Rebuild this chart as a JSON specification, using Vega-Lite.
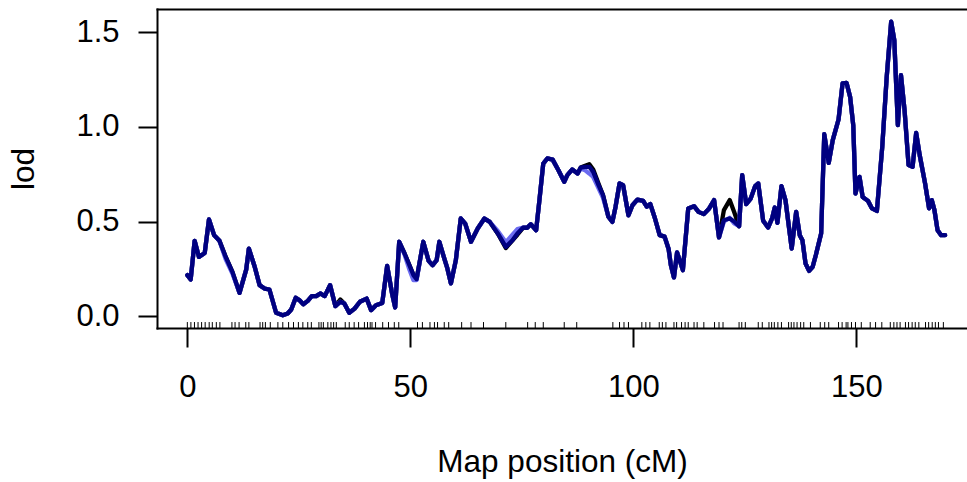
{
  "$schema": "https://vega.github.io/schema/vega-lite/v6.json",
  "width": 810,
  "height": 319,
  "autosize": {"type": "none"},
  "padding": {"left": 157, "top": 9, "right": 0, "bottom": 154},
  "background": "white",
  "config": {
    "view": {"stroke": null},
    "font": "Liberation Sans",
    "axis": {
      "domainColor": "black", "domainWidth": 2, "domainCap": "square",
      "tickColor": "black", "tickWidth": 2, "tickSize": 19,
      "labelFont": "Liberation Sans", "labelFontSize": 31, "labelColor": "black",
      "titleFont": "Liberation Sans", "titleFontSize": 31.5, "titleFontWeight": "normal", "titleColor": "black",
      "grid": false, "labelFlush": false, "labelOverlap": false
    },
    "axisX": {"labelPadding": 25, "titleBaseline": "alphabetic", "titleY": 143, "format": "d"},
    "axisY": {"format": ".1f", "labelPadding": 19, "titleAngle": 270, "titleX": -124, "titleY": 159.5, "titleBaseline": "alphabetic", "titleAlign": "center"}
  },
  "datasets": {
    "lod": [
      {"pos": 0, "black": 0.217, "light": 0.217, "dark": 0.217},
      {"pos": 0.75, "black": 0.194, "light": 0.194, "dark": 0.194},
      {"pos": 1.64, "black": 0.398, "light": 0.398, "dark": 0.398},
      {"pos": 2.6, "black": 0.313, "light": 0.313, "dark": 0.313},
      {"pos": 3.9, "black": 0.334, "light": 0.334, "dark": 0.334},
      {"pos": 4.85, "black": 0.511, "light": 0.511, "dark": 0.511},
      {"pos": 6.0, "black": 0.428, "light": 0.428, "dark": 0.428},
      {"pos": 7.2, "black": 0.398, "light": 0.398, "dark": 0.398},
      {"pos": 8.6, "black": 0.313, "light": 0.3, "dark": 0.313},
      {"pos": 10.1, "black": 0.234, "light": 0.225, "dark": 0.234},
      {"pos": 11.7, "black": 0.123, "light": 0.123, "dark": 0.123},
      {"pos": 13.2, "black": 0.246, "light": 0.246, "dark": 0.246},
      {"pos": 13.8, "black": 0.357, "light": 0.357, "dark": 0.357},
      {"pos": 15.1, "black": 0.261, "light": 0.261, "dark": 0.261},
      {"pos": 16.2, "black": 0.164, "light": 0.164, "dark": 0.164},
      {"pos": 17.3, "black": 0.146, "light": 0.146, "dark": 0.146},
      {"pos": 18.4, "black": 0.141, "light": 0.141, "dark": 0.141},
      {"pos": 19.9, "black": 0.018, "light": 0.018, "dark": 0.018},
      {"pos": 21.4, "black": 0.005, "light": 0.005, "dark": 0.005},
      {"pos": 22.5, "black": 0.014, "light": 0.014, "dark": 0.014},
      {"pos": 23.3, "black": 0.035, "light": 0.035, "dark": 0.035},
      {"pos": 24.3, "black": 0.097, "light": 0.097, "dark": 0.097},
      {"pos": 25.1, "black": 0.085, "light": 0.085, "dark": 0.085},
      {"pos": 26.0, "black": 0.063, "light": 0.063, "dark": 0.063},
      {"pos": 27.0, "black": 0.081, "light": 0.081, "dark": 0.081},
      {"pos": 27.9, "black": 0.106, "light": 0.106, "dark": 0.106},
      {"pos": 28.9, "black": 0.106, "light": 0.106, "dark": 0.106},
      {"pos": 29.8, "black": 0.12, "light": 0.12, "dark": 0.12},
      {"pos": 30.8, "black": 0.106, "light": 0.106, "dark": 0.106},
      {"pos": 32.0, "black": 0.164, "light": 0.164, "dark": 0.164},
      {"pos": 33.2, "black": 0.053, "light": 0.053, "dark": 0.053},
      {"pos": 34.3, "black": 0.088, "light": 0.076, "dark": 0.076},
      {"pos": 35.2, "black": 0.067, "light": 0.067, "dark": 0.067},
      {"pos": 36.3, "black": 0.018, "light": 0.018, "dark": 0.018},
      {"pos": 37.5, "black": 0.04, "light": 0.04, "dark": 0.04},
      {"pos": 38.7, "black": 0.076, "light": 0.076, "dark": 0.076},
      {"pos": 40.2, "black": 0.093, "light": 0.093, "dark": 0.093},
      {"pos": 41.2, "black": 0.032, "light": 0.032, "dark": 0.032},
      {"pos": 42.3, "black": 0.058, "light": 0.058, "dark": 0.058},
      {"pos": 43.7, "black": 0.07, "light": 0.07, "dark": 0.07},
      {"pos": 44.8, "black": 0.266, "light": 0.266, "dark": 0.266},
      {"pos": 45.9, "black": 0.12, "light": 0.12, "dark": 0.12},
      {"pos": 46.6, "black": 0.046, "light": 0.046, "dark": 0.046},
      {"pos": 47.5, "black": 0.393, "light": 0.393, "dark": 0.393},
      {"pos": 48.7, "black": 0.331, "light": 0.325, "dark": 0.331},
      {"pos": 49.8, "black": 0.269, "light": 0.245, "dark": 0.269},
      {"pos": 50.7, "black": 0.217, "light": 0.19, "dark": 0.217},
      {"pos": 51.4, "black": 0.196, "light": 0.19, "dark": 0.196},
      {"pos": 52.9, "black": 0.393, "light": 0.393, "dark": 0.393},
      {"pos": 54.1, "black": 0.292, "light": 0.292, "dark": 0.292},
      {"pos": 55.0, "black": 0.269, "light": 0.269, "dark": 0.269},
      {"pos": 55.9, "black": 0.296, "light": 0.296, "dark": 0.296},
      {"pos": 56.5, "black": 0.393, "light": 0.393, "dark": 0.393},
      {"pos": 57.6, "black": 0.305, "light": 0.305, "dark": 0.305},
      {"pos": 58.3, "black": 0.252, "light": 0.252, "dark": 0.252},
      {"pos": 59.1, "black": 0.173, "light": 0.173, "dark": 0.173},
      {"pos": 60.2, "black": 0.296, "light": 0.296, "dark": 0.296},
      {"pos": 61.3, "black": 0.516, "light": 0.516, "dark": 0.516},
      {"pos": 62.3, "black": 0.489, "light": 0.489, "dark": 0.489},
      {"pos": 63.6, "black": 0.393, "light": 0.393, "dark": 0.393},
      {"pos": 65.1, "black": 0.463, "light": 0.463, "dark": 0.463},
      {"pos": 66.6, "black": 0.516, "light": 0.516, "dark": 0.516},
      {"pos": 67.8, "black": 0.498, "light": 0.498, "dark": 0.498},
      {"pos": 69.6, "black": 0.437, "light": 0.45, "dark": 0.437},
      {"pos": 71.4, "black": 0.36, "light": 0.39, "dark": 0.366},
      {"pos": 72.9, "black": 0.401, "light": 0.43, "dark": 0.401},
      {"pos": 74.0, "black": 0.43, "light": 0.46, "dark": 0.437},
      {"pos": 75.3, "black": 0.468, "light": 0.468, "dark": 0.468},
      {"pos": 76.2, "black": 0.467, "light": 0.467, "dark": 0.467},
      {"pos": 77.0, "black": 0.486, "light": 0.486, "dark": 0.486},
      {"pos": 78.2, "black": 0.454, "light": 0.454, "dark": 0.454},
      {"pos": 78.9, "black": 0.604, "light": 0.604, "dark": 0.604},
      {"pos": 79.8, "black": 0.806, "light": 0.806, "dark": 0.806},
      {"pos": 80.7, "black": 0.833, "light": 0.833, "dark": 0.833},
      {"pos": 81.9, "black": 0.827, "light": 0.827, "dark": 0.827},
      {"pos": 83.2, "black": 0.771, "light": 0.771, "dark": 0.771},
      {"pos": 84.5, "black": 0.71, "light": 0.71, "dark": 0.71},
      {"pos": 85.2, "black": 0.745, "light": 0.745, "dark": 0.745},
      {"pos": 86.3, "black": 0.775, "light": 0.775, "dark": 0.775},
      {"pos": 87.5, "black": 0.754, "light": 0.754, "dark": 0.754},
      {"pos": 88.2, "black": 0.785, "light": 0.78, "dark": 0.785},
      {"pos": 89.2, "black": 0.795, "light": 0.77, "dark": 0.789},
      {"pos": 90.1, "black": 0.803, "light": 0.754, "dark": 0.789},
      {"pos": 91.0, "black": 0.775, "light": 0.735, "dark": 0.762},
      {"pos": 92.2, "black": 0.7, "light": 0.675, "dark": 0.692},
      {"pos": 93.2, "black": 0.639, "light": 0.625, "dark": 0.639},
      {"pos": 94.4, "black": 0.525, "light": 0.525, "dark": 0.525},
      {"pos": 95.3, "black": 0.498, "light": 0.498, "dark": 0.498},
      {"pos": 96.0, "black": 0.577, "light": 0.577, "dark": 0.577},
      {"pos": 96.9, "black": 0.701, "light": 0.701, "dark": 0.701},
      {"pos": 97.7, "black": 0.692, "light": 0.692, "dark": 0.692},
      {"pos": 98.9, "black": 0.533, "light": 0.533, "dark": 0.533},
      {"pos": 99.8, "black": 0.586, "light": 0.586, "dark": 0.586},
      {"pos": 100.9, "black": 0.616, "light": 0.616, "dark": 0.616},
      {"pos": 102.2, "black": 0.609, "light": 0.609, "dark": 0.609},
      {"pos": 103.0, "black": 0.578, "light": 0.578, "dark": 0.578},
      {"pos": 103.8, "black": 0.592, "light": 0.592, "dark": 0.592},
      {"pos": 104.8, "black": 0.52, "light": 0.52, "dark": 0.52},
      {"pos": 105.9, "black": 0.428, "light": 0.428, "dark": 0.428},
      {"pos": 107.0, "black": 0.42, "light": 0.42, "dark": 0.42},
      {"pos": 107.9, "black": 0.355, "light": 0.355, "dark": 0.355},
      {"pos": 108.4, "black": 0.27, "light": 0.27, "dark": 0.27},
      {"pos": 109.1, "black": 0.205, "light": 0.205, "dark": 0.205},
      {"pos": 109.8, "black": 0.337, "light": 0.337, "dark": 0.337},
      {"pos": 111.1, "black": 0.243, "light": 0.243, "dark": 0.243},
      {"pos": 112.3, "black": 0.569, "light": 0.569, "dark": 0.569},
      {"pos": 113.6, "black": 0.581, "light": 0.581, "dark": 0.581},
      {"pos": 114.6, "black": 0.551, "light": 0.551, "dark": 0.551},
      {"pos": 115.8, "black": 0.539, "light": 0.539, "dark": 0.539},
      {"pos": 117.0, "black": 0.569, "light": 0.569, "dark": 0.569},
      {"pos": 118.1, "black": 0.613, "light": 0.613, "dark": 0.613},
      {"pos": 119.2, "black": 0.416, "light": 0.416, "dark": 0.416},
      {"pos": 120.3, "black": 0.56, "light": 0.5, "dark": 0.507},
      {"pos": 121.6, "black": 0.613, "light": 0.52, "dark": 0.516},
      {"pos": 122.6, "black": 0.55, "light": 0.49, "dark": 0.5},
      {"pos": 123.7, "black": 0.475, "light": 0.475, "dark": 0.475},
      {"pos": 124.4, "black": 0.745, "light": 0.745, "dark": 0.745},
      {"pos": 125.3, "black": 0.592, "light": 0.592, "dark": 0.592},
      {"pos": 126.3, "black": 0.621, "light": 0.621, "dark": 0.621},
      {"pos": 127.3, "black": 0.687, "light": 0.687, "dark": 0.687},
      {"pos": 128.0, "black": 0.701, "light": 0.701, "dark": 0.701},
      {"pos": 129.1, "black": 0.504, "light": 0.504, "dark": 0.504},
      {"pos": 130.2, "black": 0.468, "light": 0.468, "dark": 0.468},
      {"pos": 131.1, "black": 0.516, "light": 0.516, "dark": 0.516},
      {"pos": 131.7, "black": 0.574, "light": 0.574, "dark": 0.574},
      {"pos": 132.3, "black": 0.493, "light": 0.493, "dark": 0.493},
      {"pos": 133.2, "black": 0.687, "light": 0.687, "dark": 0.687},
      {"pos": 134.1, "black": 0.613, "light": 0.613, "dark": 0.613},
      {"pos": 135.5, "black": 0.357, "light": 0.357, "dark": 0.357},
      {"pos": 136.5, "black": 0.551, "light": 0.551, "dark": 0.551},
      {"pos": 137.3, "black": 0.428, "light": 0.428, "dark": 0.428},
      {"pos": 137.9, "black": 0.401, "light": 0.401, "dark": 0.401},
      {"pos": 138.6, "black": 0.278, "light": 0.278, "dark": 0.278},
      {"pos": 139.4, "black": 0.239, "light": 0.239, "dark": 0.239},
      {"pos": 140.2, "black": 0.261, "light": 0.261, "dark": 0.261},
      {"pos": 140.9, "black": 0.322, "light": 0.322, "dark": 0.322},
      {"pos": 142.1, "black": 0.437, "light": 0.437, "dark": 0.437},
      {"pos": 142.8, "black": 0.961, "light": 0.961, "dark": 0.961},
      {"pos": 143.8, "black": 0.81, "light": 0.81, "dark": 0.81},
      {"pos": 144.7, "black": 0.93, "light": 0.93, "dark": 0.93},
      {"pos": 146.0, "black": 1.039, "light": 1.039, "dark": 1.039},
      {"pos": 146.9, "black": 1.229, "light": 1.229, "dark": 1.229},
      {"pos": 147.8, "black": 1.232, "light": 1.232, "dark": 1.232},
      {"pos": 148.6, "black": 1.158, "light": 1.158, "dark": 1.158},
      {"pos": 149.3, "black": 1.009, "light": 1.009, "dark": 1.009},
      {"pos": 149.8, "black": 0.648, "light": 0.648, "dark": 0.648},
      {"pos": 150.7, "black": 0.736, "light": 0.736, "dark": 0.736},
      {"pos": 151.4, "black": 0.63, "light": 0.63, "dark": 0.63},
      {"pos": 152.6, "black": 0.609, "light": 0.609, "dark": 0.609},
      {"pos": 153.5, "black": 0.569, "light": 0.569, "dark": 0.569},
      {"pos": 154.6, "black": 0.556, "light": 0.556, "dark": 0.556},
      {"pos": 155.8, "black": 0.894, "light": 0.894, "dark": 0.894},
      {"pos": 156.8, "black": 1.264, "light": 1.264, "dark": 1.264},
      {"pos": 157.8, "black": 1.555, "light": 1.555, "dark": 1.555},
      {"pos": 158.5, "black": 1.458, "light": 1.458, "dark": 1.458},
      {"pos": 159.3, "black": 1.009, "light": 1.009, "dark": 1.009},
      {"pos": 160.0, "black": 1.273, "light": 1.273, "dark": 1.273},
      {"pos": 160.8, "black": 1.088, "light": 1.088, "dark": 1.088},
      {"pos": 161.7, "black": 0.798, "light": 0.798, "dark": 0.798},
      {"pos": 162.6, "black": 0.789, "light": 0.789, "dark": 0.789},
      {"pos": 163.4, "black": 0.968, "light": 0.968, "dark": 0.968},
      {"pos": 164.2, "black": 0.85, "light": 0.85, "dark": 0.85},
      {"pos": 165.4, "black": 0.701, "light": 0.701, "dark": 0.701},
      {"pos": 166.3, "black": 0.569, "light": 0.569, "dark": 0.569},
      {"pos": 166.9, "black": 0.613, "light": 0.613, "dark": 0.613},
      {"pos": 167.5, "black": 0.56, "light": 0.56, "dark": 0.56},
      {"pos": 168.2, "black": 0.454, "light": 0.454, "dark": 0.454},
      {"pos": 169.0, "black": 0.428, "light": 0.428, "dark": 0.428},
      {"pos": 169.9, "black": 0.428, "light": 0.428, "dark": 0.428}
    ],
    "markers": [
      {"cM": 0}, {"cM": 0.8}, {"cM": 1.6}, {"cM": 2.4}, {"cM": 3.2}, {"cM": 4.0}, {"cM": 4.9}, {"cM": 5.6}, {"cM": 6.5}, {"cM": 7.3},
      {"cM": 10.0}, {"cM": 10.7}, {"cM": 11.6}, {"cM": 13.1}, {"cM": 13.8}, {"cM": 16.3}, {"cM": 16.9}, {"cM": 17.5}, {"cM": 18.6}, {"cM": 20.3},
      {"cM": 21.4}, {"cM": 22.7}, {"cM": 23.8}, {"cM": 24.9}, {"cM": 25.9}, {"cM": 27.0}, {"cM": 27.8}, {"cM": 29.5}, {"cM": 30.0}, {"cM": 30.5},
      {"cM": 31.5}, {"cM": 32.2}, {"cM": 32.8}, {"cM": 33.4}, {"cM": 35.4}, {"cM": 36.3}, {"cM": 37.4}, {"cM": 38.4}, {"cM": 39.7}, {"cM": 40.4},
      {"cM": 41.0}, {"cM": 41.4}, {"cM": 42.2}, {"cM": 43.8}, {"cM": 45.1}, {"cM": 46.4}, {"cM": 47.4}, {"cM": 51.6}, {"cM": 52.7}, {"cM": 54.4},
      {"cM": 55.4}, {"cM": 56.1}, {"cM": 57.6}, {"cM": 58.6}, {"cM": 61.5}, {"cM": 63.6}, {"cM": 66.4}, {"cM": 71.4}, {"cM": 76.3}, {"cM": 78.0},
      {"cM": 79.8}, {"cM": 84.5}, {"cM": 87.3}, {"cM": 95.4}, {"cM": 96.9}, {"cM": 97.9}, {"cM": 98.9}, {"cM": 101.9}, {"cM": 102.8}, {"cM": 103.7},
      {"cM": 105.8}, {"cM": 106.5}, {"cM": 107.3}, {"cM": 109.1}, {"cM": 109.7}, {"cM": 110.8}, {"cM": 111.6}, {"cM": 112.3}, {"cM": 113.6}, {"cM": 114.3},
      {"cM": 115.8}, {"cM": 118.2}, {"cM": 119.2}, {"cM": 120.1}, {"cM": 123.7}, {"cM": 124.3}, {"cM": 125.1}, {"cM": 128.0}, {"cM": 128.9}, {"cM": 130.4},
      {"cM": 131.0}, {"cM": 131.6}, {"cM": 132.4}, {"cM": 133.2}, {"cM": 134.8}, {"cM": 135.4}, {"cM": 136.0}, {"cM": 136.7}, {"cM": 137.5}, {"cM": 138.2},
      {"cM": 139.7}, {"cM": 141.9}, {"cM": 142.9}, {"cM": 143.8}, {"cM": 146.0}, {"cM": 146.8}, {"cM": 147.7}, {"cM": 148.1}, {"cM": 148.9}, {"cM": 149.8},
      {"cM": 151.1}, {"cM": 153.1}, {"cM": 154.3}, {"cM": 155.7}, {"cM": 157.6}, {"cM": 158.4}, {"cM": 159.1}, {"cM": 159.8}, {"cM": 161.0}, {"cM": 161.7},
      {"cM": 162.5}, {"cM": 163.2}, {"cM": 164.0}, {"cM": 165.5}, {"cM": 166.2}, {"cM": 167.0}, {"cM": 167.7}, {"cM": 168.4}, {"cM": 169.5}
    ]
  },
  "layer": [
    {
      "data": {"name": "markers"},
      "mark": {"type": "rule", "color": "black", "strokeWidth": 1},
      "encoding": {
        "x": {"field": "cM", "type": "quantitative", "scale": {"domain": [-6.8, 174.8], "nice": false, "zero": false},
              "axis": {"orient": "top", "labels": false, "ticks": false, "title": null, "domain": true}},
        "y": {"datum": -0.0624, "type": "quantitative", "scale": {"domain": [-0.0624, 1.6224], "nice": false, "zero": false}, "title": "lod",
              "axis": {"values": [0, 0.5, 1, 1.5], "format": ".1f"}},
        "y2": {"datum": -0.031}
      }
    },
    {
      "data": {"name": "lod"},
      "mark": {"type": "line", "color": "black", "strokeWidth": 4.3, "strokeJoin": "round", "strokeCap": "round"},
      "encoding": {
        "x": {"field": "pos", "type": "quantitative", "scale": {"domain": [-6.8, 174.8], "nice": false, "zero": false},
              "axis": {"orient": "bottom", "values": [0, 50, 100, 150], "title": "Map position (cM)"}},
        "y": {"field": "black", "type": "quantitative", "scale": {"domain": [-0.0624, 1.6224], "nice": false, "zero": false}, "title": "lod",
              "axis": {"values": [0, 0.5, 1, 1.5], "format": ".1f"}}
      }
    },
    {
      "data": {"name": "lod"},
      "mark": {"type": "line", "color": "#6b6bf0", "strokeWidth": 4.3, "strokeJoin": "round", "strokeCap": "round"},
      "encoding": {
        "x": {"field": "pos", "type": "quantitative", "scale": {"domain": [-6.8, 174.8], "nice": false, "zero": false}, "axis": null},
        "y": {"field": "light", "type": "quantitative", "scale": {"domain": [-0.0624, 1.6224], "nice": false, "zero": false}, "title": "lod",
              "axis": {"values": [0, 0.5, 1, 1.5], "format": ".1f"}}
      }
    },
    {
      "data": {"name": "lod"},
      "mark": {"type": "line", "color": "#000080", "strokeWidth": 4.3, "strokeJoin": "round", "strokeCap": "round"},
      "encoding": {
        "x": {"field": "pos", "type": "quantitative", "scale": {"domain": [-6.8, 174.8], "nice": false, "zero": false}, "axis": null},
        "y": {"field": "dark", "type": "quantitative", "scale": {"domain": [-0.0624, 1.6224], "nice": false, "zero": false}, "title": "lod",
              "axis": {"values": [0, 0.5, 1, 1.5], "format": ".1f"}}
      }
    }
  ],
  "resolve": {"axis": {"x": "independent"}}
}
